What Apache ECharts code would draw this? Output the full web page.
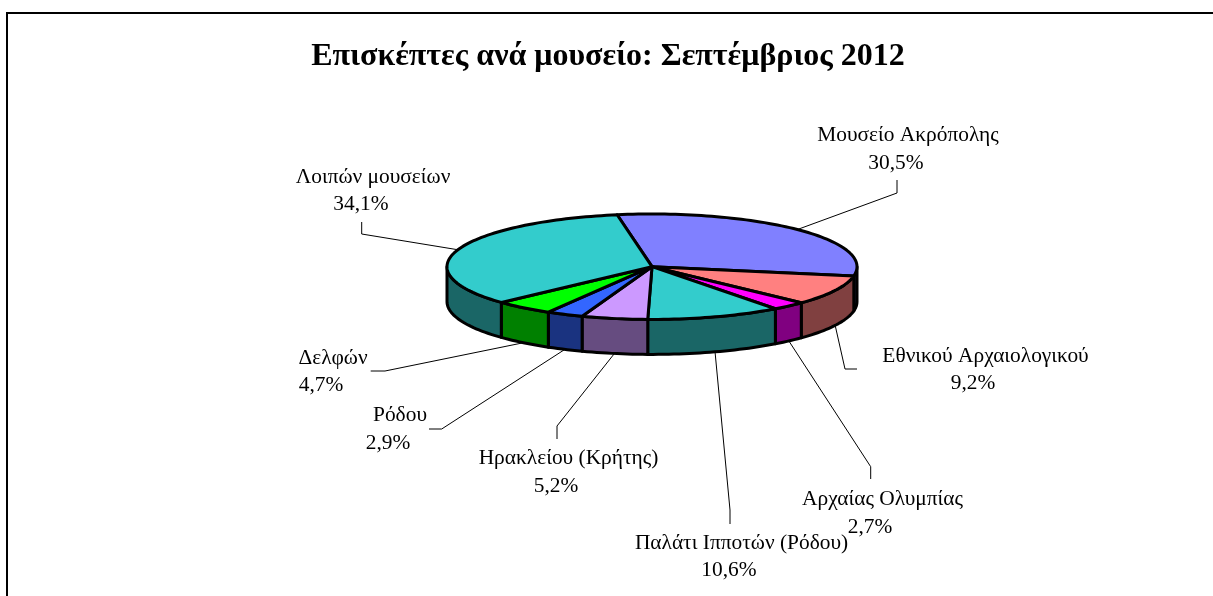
<!DOCTYPE html>
<html>
<head>
<meta charset="utf-8">
<style>html,body{margin:0;padding:0;background:#fff}#c{width:1213px;height:596px}</style>
<script src="https://cdn.jsdelivr.net/npm/echarts@6/dist/echarts.min.js"></script>
</head>
<body>
<div id="c"></div>
<script>
const titleText = 'Επισκέπτες ανά μουσείο: Σεπτέμβριος 2012';
const categories = ['Μουσείο Ακρόπολης','Εθνικού Αρχαιολογικού','Αρχαίας Ολυμπίας','Παλάτι Ιπποτών (Ρόδου)','Ηρακλείου (Κρήτης)','Ρόδου','Δελφών','Λοιπών μουσείων'];
const shares = [30.5,9.2,2.7,10.6,5.2,2.9,4.7,34.1];
const shareLabels = ['30,5%','9,2%','2,7%','10,6%','5,2%','2,9%','4,7%','34,1%'];
const topColors = ['#8080FF','#FF8080','#FF00FF','#33CCCC','#CC99FF','#3366FF','#00FF00','#33CCCC'];
const sideColors = ['#404080','#804040','#800080','#1A6666','#664C80','#1A3380','#008000','#1A6666'];

// layout only: pixel positions of label lines and leader elbows
const nameAt  = [[908,135],[985.5,356],[882.5,499],[741.5,543],[568.5,458],[400,415],[333,358],[373,177]];
const valueAt = [[896,163],[973,383],[870,527],[729,570],[556,486],[388,443],[321,385],[361,204]];
const elbows  = [[[897,193],[897,180]],[[845,369],[857,369]],[[870.7,466.7],[870.7,479]],[[730,510],[730,524]],[[557,426],[557,439]],[[441.7,429],[429,429]],[[385,371],[370.7,371]],[[361.7,234],[361.7,222]]];

const START_DEG = -9.8, DEPTH = 0.664, FONT = '"Liberation Serif", serif';
const rad = d => d * Math.PI / 180;
const total = shares.reduce((a, b) => a + b, 0);
let acc = START_DEG;
const sliceData = shares.map(v => { const s = acc; acc += v / total * 360; return [s, acc]; });

const rim = (api, deg, drop) => api.coord([Math.sin(rad(deg)), Math.cos(rad(deg)) - drop]);
const arc = (api, a, b, drop) => {
  const n = Math.max(2, Math.ceil(Math.abs(b - a) / 1.5)), out = [];
  for (let k = 0; k <= n; k++) out.push(rim(api, a + (b - a) * k / n, drop));
  return out;
};
const edge = {stroke:'#000', lineWidth:3, lineJoin:'round'};

function renderSide(p, api) {
  const a = Math.max(api.value(0), 90), b = Math.min(api.value(1), 270);
  if (b <= a) return {type:'group', children:[]};
  return {type:'polygon', shape:{points: arc(api,a,b,0).concat(arc(api,b,a,DEPTH))},
    style:Object.assign({fill:sideColors[p.dataIndex]}, edge)};
}
function renderTop(p, api) {
  const a = api.value(0), b = api.value(1);
  return {type:'polygon', shape:{points:[api.coord([0,0])].concat(arc(api,a,b,0))},
    style:Object.assign({fill:topColors[p.dataIndex]}, edge)};
}
function renderLabel(p, api) {
  const i = p.dataIndex, mid = (api.value(0) + api.value(1)) / 2;
  const c = Math.cos(rad(mid));
  const start = rim(api, mid, c < 0 ? DEPTH : 0);
  const txt = (t, at) => ({type:'text', style:{text:t, x:at[0], y:at[1], align:'center', verticalAlign:'middle', fill:'#000', font:'21.4px ' + FONT}});
  return {type:'group', children:[
    {type:'polyline', shape:{points:[start].concat(elbows[i])}, style:{stroke:'#000', lineWidth:1, fill:null}},
    txt(categories[i], nameAt[i]), txt(shareLabels[i], valueAt[i])
  ]};
}
const base = {type:'custom', coordinateSystem:'cartesian2d', data:sliceData, clip:false, silent:true, animation:false,
  encode:{x:0, y:1}};

const chart = echarts.init(document.getElementById('c'), null, {renderer:'canvas'});
chart.setOption({
  animation:false,
  backgroundColor:'#fff',
  title:{text:titleText, left:608, top:36, textAlign:'center', textStyle:{fontFamily:'Liberation Serif', fontWeight:'bold', fontSize:32, color:'#000'}},
  grid:{left:447, top:214, width:410, height:105.4},
  xAxis:{type:'value', min:-1, max:1, show:false},
  yAxis:{type:'value', min:-1, max:1, show:false},
  tooltip:{show:false},
  graphic:[{type:'polyline', shape:{points:[[7,596],[7,13],[1213,13]]}, style:{stroke:'#000', lineWidth:2, fill:null}, silent:true}],
  series:[
    Object.assign({}, base, {name:'side', z:2, renderItem:renderSide}),
    Object.assign({}, base, {name:'top', z:3, renderItem:renderTop}),
    Object.assign({}, base, {name:'label', z:1, renderItem:renderLabel})
  ]
});
chart.setOption({title:{left:603}});
</script>
</body>
</html>
